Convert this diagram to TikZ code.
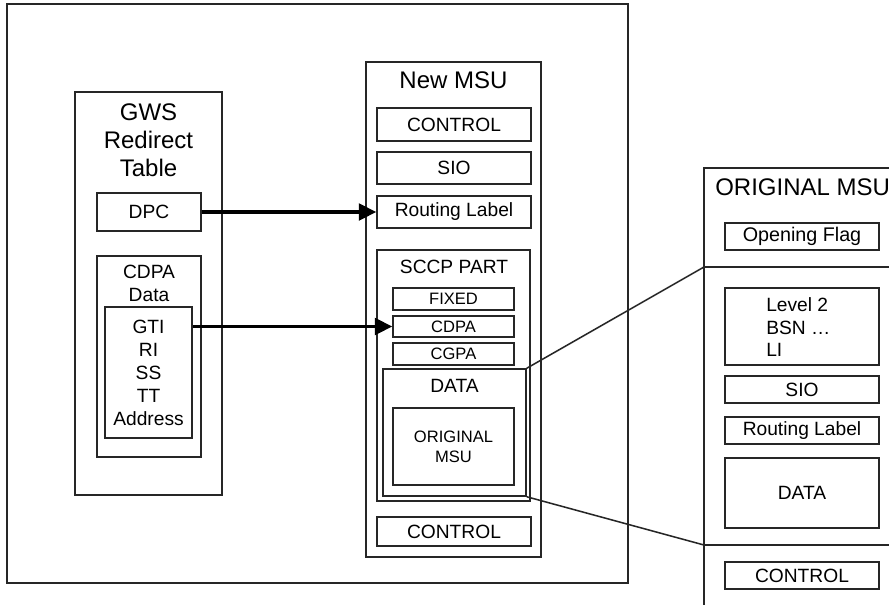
\documentclass[tikz,border=0pt]{standalone}
\usepackage{fontspec}
\setmainfont{Liberation Sans}
\usetikzlibrary{arrows.meta, positioning}

\begin{document}
\begin{tikzpicture}[
    x=0.75pt, y=-0.75pt,
    box/.style = {rectangle, draw=black!85, line width=1.15pt, inner sep=0pt, align=center, font=\fontsize{14.4}{17.25}\selectfont},
    heading/.style = {align=center, inner sep=0pt, font=\fontsize{18}{21}\selectfont},
    lbl/.style = {align=center, inner sep=0pt, font=\fontsize{14.4}{17.25}\selectfont},
    smallbox/.style = {box, font=\fontsize{12.4}{15}\selectfont},
    arrow/.style = {draw, line width=2.4pt, -{Triangle[length=13pt, width=12.5pt]}},
    zoomline/.style = {draw=black!85, line width=1.15pt}
]
\useasboundingbox (0,0) rectangle (889,604);
\clip (0,0) rectangle (889,604);

% Outer frame
\node (frame) [box, minimum width=465.75pt, minimum height=434.25pt] at (317.5, 293.5) {};

% Left column: GWS Redirect Table
\node (gws) [box, minimum width=110.25pt, minimum height=302.25pt] at (148.5, 293.5) {};
\node (gwstitle) [heading] at (148.5, 140) {GWS\\Redirect\\Table};
\node (dpc) [box, minimum width=78pt, minimum height=28.5pt] at (149, 212) {DPC};
\node (cdpadata) [box, minimum width=78pt, minimum height=150.75pt] at (149, 356.5) {};
\node (cdpatitle) [lbl] at (149, 283.5) {CDPA\\Data};
\node (gti) [box, minimum width=65.25pt, minimum height=98.25pt] at (148.5, 372.5) {GTI\\RI\\SS\\TT\\Address};

% Middle column: New MSU
\node (newmsu) [box, minimum width=131.25pt, minimum height=371.25pt] at (453.5, 309.5) {};
\node (newtitle) [heading] at (453.5, 80) {New MSU};
\node (ctrl1) [box, minimum width=115.5pt, minimum height=24.75pt] at (454, 124.5) {CONTROL};
\node (sio1) [box, minimum width=115.5pt, minimum height=24pt] at (454, 168) {SIO};
\node (route1) [box, minimum width=115.5pt, minimum height=24pt] at (454, 212) {Routing Label};

% SCCP part with its fields
\node (sccp) [box, minimum width=114.75pt, minimum height=188.25pt] at (453.5, 375.5) {};
\node (sccptitle) [lbl] at (454, 267) {SCCP PART};
\node (fixed) [smallbox, minimum width=90.75pt, minimum height=16.5pt] at (453.5, 299) {FIXED};
\node (cdpa) [smallbox, minimum width=90.75pt, minimum height=15.75pt] at (453.5, 326.5) {CDPA};
\node (cgpa) [smallbox, minimum width=90.75pt, minimum height=16.5pt] at (453.5, 354) {CGPA};
\node (data) [box, minimum width=107.25pt, minimum height=95.25pt] at (454.5, 432.5) {};
\node (datatitle) [lbl] at (454.5, 386) {DATA};
\node (inner) [smallbox, minimum width=90.75pt, minimum height=57.75pt] at (453.5, 446.5) {ORIGINAL\\MSU};
\node (ctrl2) [box, minimum width=115.5pt, minimum height=21.75pt] at (454, 531.5) {CONTROL};

% Right column: ORIGINAL MSU (runs off the page)
\node (origmsu) [box, minimum width=150.75pt, minimum height=339pt] at (804.5, 394) {};
\node (origtitle) [heading, anchor=west] at (715, 187) {ORIGINAL MSU};
\node (flag) [box, minimum width=115.5pt, minimum height=20.25pt, font=\fontsize{14.8}{17.25}\selectfont] at (802, 236.5) {Opening Flag};
\coordinate (cuttop) at (704, 267);
\node (level2) [box, minimum width=115.5pt, minimum height=57.75pt] at (802, 326.5) {};
\node (level2txt) [lbl, align=left, anchor=west, font=\fontsize{14.4}{16.9}\selectfont] at (766, 327.5) {Level 2\\BSN …\\LI};
\node (sio2) [box, minimum width=115.5pt, minimum height=20.25pt] at (802, 389.5) {SIO};
\node (route2) [box, minimum width=115.5pt, minimum height=20.25pt] at (802, 430.5) {Routing Label};
\node (data2) [box, minimum width=115.5pt, minimum height=52.5pt] at (802, 493) {DATA};
\coordinate (cutbot) at (704, 545);
\node (ctrl3) [box, minimum width=115.5pt, minimum height=20.25pt] at (802, 575.5) {CONTROL};

% Cut lines across the original MSU
\draw [zoomline] (cuttop) -- (cuttop -| origmsu.east);
\draw [zoomline] (cutbot) -- (cutbot -| origmsu.east);

% Zoom from DATA to the original MSU
\draw [zoomline] (data.north east) -- (cuttop);
\draw [zoomline] (data.south east) -- (cutbot);

% Redirect arrows
\draw [arrow] (dpc.east) -- (route1.west);
\draw [arrow] (cdpa.west -| gti.east) -- (cdpa.west);

\end{tikzpicture}
\end{document}
